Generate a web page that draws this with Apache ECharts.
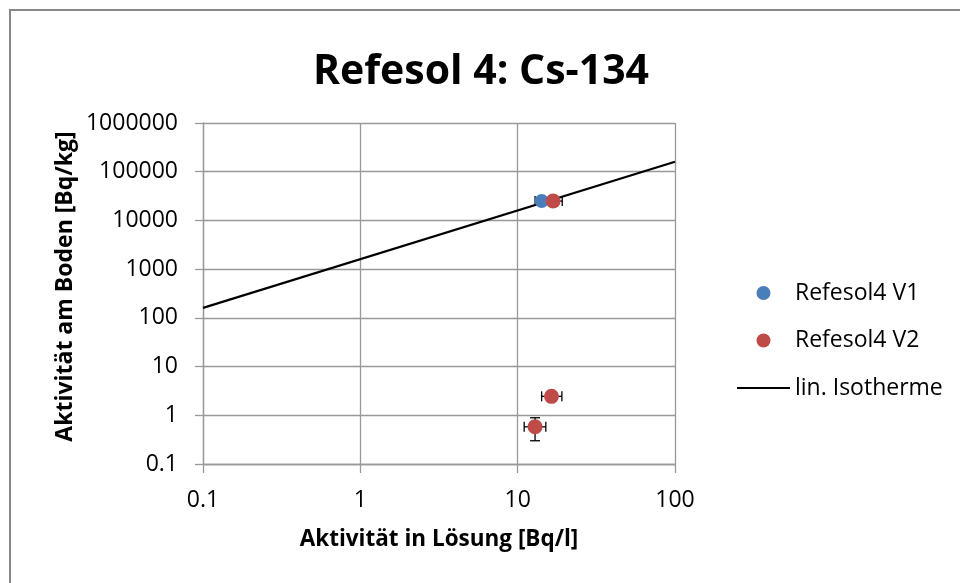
<!DOCTYPE html>
<html>
<head>
<meta charset="utf-8">
<script src="https://cdn.jsdelivr.net/npm/echarts@6/dist/echarts.min.js"></script>
<style>html,body{margin:0;padding:0;background:#fff}#c{width:960px;height:583px}</style>
</head>
<body>
<div id="c"></div>
<script>
// Data
var xTicks = [0.1, 1, 10, 100];
var yTicks = [0.1, 1, 10, 100, 1000, 10000, 100000, 1000000];

var v1X = [14.2];
var v1Y = [25000];
var v1XLo = [12.9];
var v1XHi = [15.8];
var v1YLo = [23000];
var v1YHi = [27000];

var v2X = [16.8, 16.4, 12.9];
var v2Y = [25000, 2.45, 0.58];
var v2XLo = [14.6, 14.2, 11.0];
var v2XHi = [19.2, 19.1, 15.1];
var v2YLo = [23000, 2.2, 0.30];
var v2YHi = [27000, 2.75, 0.89];

var isoX = [0.1, 100];
var isoY = [160, 160000];

var FONT = 'Open Sans';

function pts(xs, ys) { return xs.map(function (x, i) { return [x, ys[i]]; }); }
function errRows(xs, ys, xlo, xhi, ylo, yhi) {
  return xs.map(function (x, i) { return [x, ys[i], xlo[i], xhi[i], ylo[i], yhi[i]]; });
}

function errRender(params, api) {
  var x = api.value(0), y = api.value(1);
  var l = api.coord([api.value(2), y]);
  var r = api.coord([api.value(3), y]);
  var b = api.coord([x, api.value(4)]);
  var t = api.coord([x, api.value(5)]);
  var cap = 5;
  var st = { stroke: '#000', lineWidth: 1.3 };
  return {
    type: 'group',
    children: [
      { type: 'line', shape: { x1: l[0], y1: l[1], x2: r[0], y2: r[1] }, style: st },
      { type: 'line', shape: { x1: l[0], y1: l[1] - cap, x2: l[0], y2: l[1] + cap }, style: st },
      { type: 'line', shape: { x1: r[0], y1: r[1] - cap, x2: r[0], y2: r[1] + cap }, style: st },
      { type: 'line', shape: { x1: t[0], y1: t[1], x2: b[0], y2: b[1] }, style: st },
      { type: 'line', shape: { x1: t[0] - cap, y1: t[1], x2: t[0] + cap, y2: t[1] }, style: st },
      { type: 'line', shape: { x1: b[0] - cap, y1: b[1], x2: b[0] + cap, y2: b[1] }, style: st }
    ]
  };
}

function fmt(v) {
  return String(Number(v.toPrecision(6)));
}

var chart = echarts.init(document.getElementById('c'), null, { renderer: 'canvas' });
chart.setOption({
  animation: false,
  backgroundColor: '#fff',
  title: {
    text: 'Refesol 4: Cs-134',
    left: 476, top: 47, textAlign: 'center',
    textStyle: { fontFamily: FONT, fontWeight: 'bold', fontSize: 41, color: '#000' }
  },
  graphic: [{
    type: 'rect', shape: { x: 10, y: 10, width: 980, height: 600 },
    style: { fill: 'none', stroke: '#888', lineWidth: 2 }, silent: true
  }],
  legend: {
    orient: 'vertical', left: 732, top: 276,
    itemWidth: 53, itemHeight: 14, itemGap: 23.5,
    textStyle: { fontFamily: FONT, fontSize: 23, color: '#000', lineHeight: 24 },
    data: [
      { name: 'Refesol4 V1', icon: 'circle' },
      { name: 'Refesol4 V2', icon: 'circle' },
      { name: 'lin. Isotherme', icon: 'path://M0,0H53V2.2H0Z', itemStyle: { color: '#000' } }
    ]
  },
  grid: { left: 203, top: 123, width: 472, height: 341, containLabel: false },
  xAxis: {
    type: 'log', logBase: 10, min: 0.1, max: 100,
    name: 'Aktivität in Lösung [Bq/l]', nameLocation: 'middle', nameGap: 64,
    nameTextStyle: { fontFamily: FONT, fontWeight: 'bold', fontSize: 22.5, color: '#000' },
    axisLine: { show: true, lineStyle: { color: '#999', width: 1.3 } },
    axisTick: { show: true, inside: false, length: 9, lineStyle: { color: '#999', width: 1.3 } },
    splitLine: { show: true, lineStyle: { color: '#999', width: 1.3 } },
    axisLabel: { fontFamily: FONT, fontSize: 23, color: '#000', margin: 25,
      formatter: function (v) { return fmt(v); } }
  },
  yAxis: {
    type: 'log', logBase: 10, min: 0.1, max: 1000000,
    name: 'Aktivität am Boden [Bq/kg]', nameLocation: 'middle', nameGap: 126,
    nameTextStyle: { fontFamily: FONT, fontWeight: 'bold', fontSize: 23, color: '#000', padding: [0, 0, 0, 14] },
    axisLine: { show: true, lineStyle: { color: '#999', width: 1.3 } },
    axisTick: { show: true, inside: false, length: 8, lineStyle: { color: '#999', width: 1.3 } },
    splitLine: { show: true, lineStyle: { color: '#999', width: 1.3 } },
    axisLabel: { fontFamily: FONT, fontSize: 23, color: '#000', margin: 25,
      formatter: function (v) { return fmt(v); } }
  },
  series: [
    {
      name: 'lin. Isotherme', type: 'line', data: pts(isoX, isoY),
      showSymbol: false, symbol: 'none', color: '#000',
      lineStyle: { color: '#000', width: 2.2 }, z: 2
    },
    {
      type: 'custom', name: 'errV1', renderItem: errRender,
      data: errRows(v1X, v1Y, v1XLo, v1XHi, v1YLo, v1YHi), z: 3, silent: true
    },
    {
      type: 'custom', name: 'errV2', renderItem: errRender,
      data: errRows(v2X, v2Y, v2XLo, v2XHi, v2YLo, v2YHi), z: 3, silent: true
    },
    {
      name: 'Refesol4 V1', type: 'scatter', data: pts(v1X, v1Y),
      symbol: 'circle', symbolSize: 14, itemStyle: { color: '#4a7ebb', opacity: 1 }, z: 4
    },
    {
      name: 'Refesol4 V2', type: 'scatter', data: pts(v2X, v2Y),
      symbol: 'circle', symbolSize: 15, itemStyle: { color: '#be4b48', opacity: 1 }, z: 5
    }
  ]
});
</script>
</body>
</html>
